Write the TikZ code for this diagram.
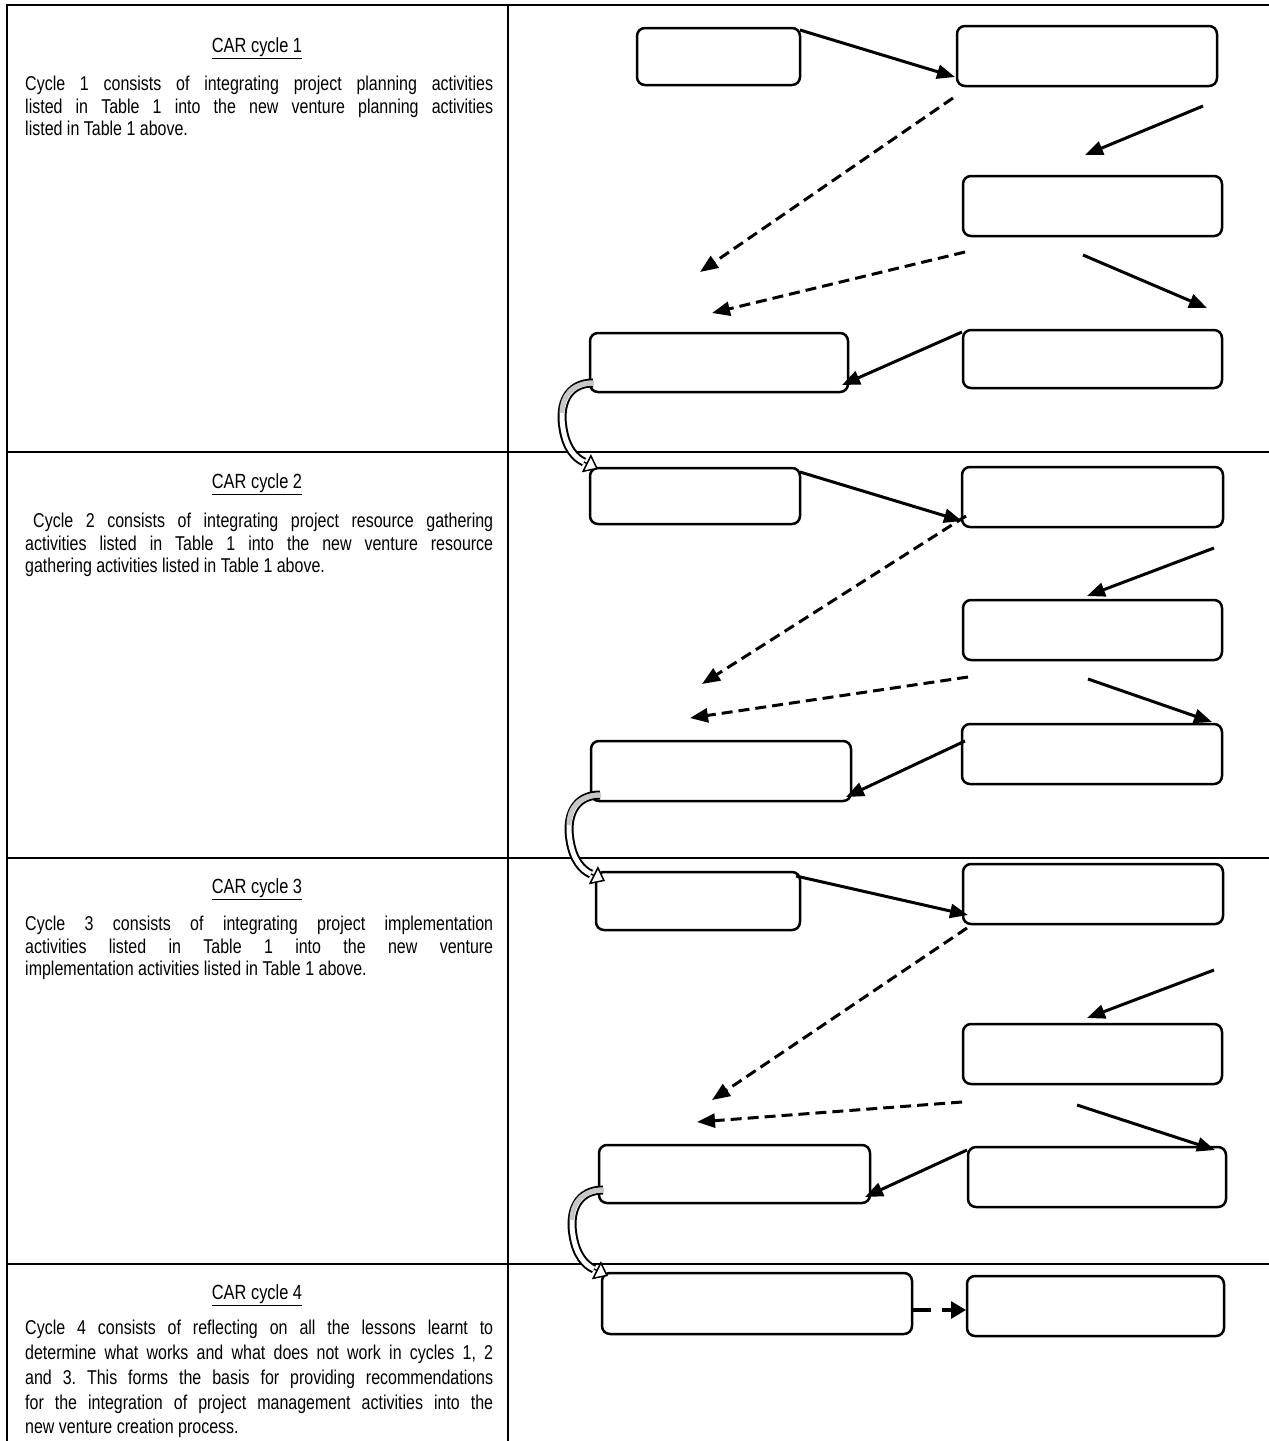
\documentclass[tikz,border=0pt]{standalone}
\usepackage{fontspec}
\setmainfont{Liberation Sans}[FakeStretch=0.80]
\usetikzlibrary{arrows.meta}
\frenchspacing
\begin{document}
\begin{tikzpicture}[x=1pt,y=-1pt,
  bx/.style={draw, line width=2.5pt, rounded corners=8pt, inner sep=0pt, fill=white},
  arr/.style={line width=3pt, -{Triangle[length=18pt,width=14pt]}},
  darr/.style={arr, dash pattern=on 11pt off 6pt},
  rule/.style={line width=2.4pt},
  ttl/.style={font=\fontsize{20.5}{24}\selectfont, inner sep=0pt},
  body/.style={font=\fontsize{20}{22.5}\selectfont, text width=468pt, align=justify, inner sep=0pt, anchor=north west},
  carcurve/.pic={
    \draw[line width=9pt] (0,0) .. controls (-26,0) and (-34,22) .. (-30,45) .. controls (-27,65) and (-18,75) .. (-9,79);
    \draw[line width=5pt, white] (0,0) .. controls (-26,0) and (-34,22) .. (-30,45) .. controls (-27,65) and (-18,75) .. (-9,79);
    \draw[line width=5pt, black!22] (1,0) .. controls (-22,0) and (-31,14) .. (-31,30);
    \draw[line width=1.5pt, -{Triangle[length=13pt,width=20pt,fill=white]}] (-9,79) -- (5,86);
  }]
\useasboundingbox (0,0) rectangle (1269,1441);
% table rules
\coordinate (tl) at (7,5);
\coordinate (tr) at (1269,5);
\coordinate (bl) at (7,1441);
\coordinate (mt) at (508,5);
\coordinate (mb) at (508,1441);
\draw[rule] (bl) -- (tl) -- (tr);
\draw[rule] (mt) -- (mb);
\coordinate (r1l) at (7,452);  \coordinate (r1r) at (1269,452);
\coordinate (r2l) at (7,858);  \coordinate (r2r) at (1269,858);
\coordinate (r3l) at (7,1264); \coordinate (r3r) at (1269,1264);
\draw[rule] (r1l) -- (r1r);
\draw[rule] (r2l) -- (r2r);
\draw[rule] (r3l) -- (r3r);

% texts
\node[ttl] (t1) at (257,48) {\underline{CAR cycle 1}};
\node[body] (p1) at (25,76) {Cycle 1 consists of integrating project planning activities\linebreak listed in Table 1 into the new venture planning activities\linebreak listed in Table 1 above.};
\node[ttl] (t2) at (257,484) {\underline{CAR cycle 2}};
\node[body] (p2) at (25,513) {\hspace*{8pt}Cycle 2 consists of integrating project resource gathering\linebreak activities listed in Table 1 into the new venture resource\linebreak gathering activities listed in Table 1 above.};
\node[ttl] (t3) at (257,889) {\underline{CAR cycle 3}};
\node[body] (p3) at (25,916) {Cycle 3 consists of integrating project implementation\linebreak activities listed in Table 1 into the new venture\linebreak implementation activities listed in Table 1 above.};
\node[ttl] (t4) at (257,1295) {\underline{CAR cycle 4}};
\node[body, font=\fontsize{20}{24.8}\selectfont] (p4) at (25,1320) {Cycle 4 consists of reflecting on all the lessons learnt to\linebreak determine what works and what does not work in cycles 1, 2\linebreak and 3. This forms the basis for providing recommendations\linebreak for the integration of project management activities into the\linebreak new venture creation process.};

% cycle 1 boxes
\node[bx, minimum width=163pt, minimum height=57pt] (a1) at (718.5,56.5) {};
\node[bx, minimum width=260pt, minimum height=60pt] (b1) at (1087,56) {};
\node[bx, minimum width=259pt, minimum height=60pt] (c1) at (1092.5,206) {};
\node[bx, minimum width=259pt, minimum height=58pt] (d1) at (1092.5,359) {};
\node[bx, minimum width=258pt, minimum height=59pt] (e1) at (719,362.5) {};
% cycle 2 boxes
\node[bx, minimum width=210pt, minimum height=56pt] (a2) at (695,496) {};
\node[bx, minimum width=261pt, minimum height=60pt] (b2) at (1092.5,497) {};
\node[bx, minimum width=259pt, minimum height=60pt] (c2) at (1092.5,630) {};
\node[bx, minimum width=260pt, minimum height=60pt] (d2) at (1092,754) {};
\node[bx, minimum width=260pt, minimum height=60pt] (e2) at (721,771) {};
% cycle 3 boxes
\node[bx, minimum width=204pt, minimum height=58pt] (a3) at (698,901) {};
\node[bx, minimum width=260pt, minimum height=60pt] (b3) at (1093,894) {};
\node[bx, minimum width=259pt, minimum height=60pt] (c3) at (1092.5,1054) {};
\node[bx, minimum width=258pt, minimum height=60pt] (d3) at (1097,1177) {};
\node[bx, minimum width=271pt, minimum height=58pt] (e3) at (734.5,1174) {};
% cycle 4 boxes
\node[bx, minimum width=310pt, minimum height=61pt] (a4) at (757,1303.5) {};
\node[bx, minimum width=257pt, minimum height=60pt] (b4) at (1095.5,1306) {};

% cycle 1 arrows
\coordinate (s11) at (800,30);   \coordinate (e11) at (955,77);
\coordinate (s12) at (953,98);   \coordinate (e12) at (700,272);
\coordinate (s13) at (1203,106); \coordinate (e13) at (1085,155);
\coordinate (s14) at (965,252);  \coordinate (e14) at (712,313);
\coordinate (s15) at (1083,255); \coordinate (e15) at (1207,308);
\coordinate (s16) at (962,332);  \coordinate (e16) at (842,385);
\draw[arr] (s11) -- (e11);
\draw[darr] (s12) -- (e12);
\draw[arr] (s13) -- (e13);
\draw[darr] (s14) -- (e14);
\draw[arr] (s15) -- (e15);
\draw[arr] (s16) -- (e16);
% cycle 2 arrows
\coordinate (s21) at (800,472);  \coordinate (e21) at (962,521);
\coordinate (s22) at (966,516);  \coordinate (e22) at (702,684);
\coordinate (s23) at (1214,548); \coordinate (e23) at (1087,596);
\coordinate (s24) at (968,677);  \coordinate (e24) at (690,718);
\coordinate (s25) at (1088,679); \coordinate (e25) at (1212,722);
\coordinate (s26) at (965,741);  \coordinate (e26) at (846,797);
\draw[arr] (s21) -- (e21);
\draw[darr] (s22) -- (e22);
\draw[arr] (s23) -- (e23);
\draw[darr] (s24) -- (e24);
\draw[arr] (s25) -- (e25);
\draw[arr] (s26) -- (e26);
% cycle 3 arrows
\coordinate (s31) at (796,876);   \coordinate (e31) at (968,915);
\coordinate (s32) at (967,928);   \coordinate (e32) at (712,1100);
\coordinate (s33) at (1214,970);  \coordinate (e33) at (1087,1018);
\coordinate (s34) at (962,1102);  \coordinate (e34) at (697,1122);
\coordinate (s35) at (1077,1105); \coordinate (e35) at (1215,1150);
\coordinate (s36) at (967,1150);  \coordinate (e36) at (865,1197);
\draw[arr] (s31) -- (e31);
\draw[darr] (s32) -- (e32);
\draw[arr] (s33) -- (e33);
\draw[darr] (s34) -- (e34);
\draw[arr] (s35) -- (e35);
\draw[arr] (s36) -- (e36);
% cycle 4 arrow
\coordinate (s41) at (913,1310); \coordinate (e41) at (966,1310);
\draw[line width=3.2pt, dash pattern=on 18pt off 11pt, -{Triangle[length=15pt,width=17pt]}] (s41) -- (e41);

% curved transfer arrows
\pic at (593,383) {carcurve};
\pic at (600,795) {carcurve};
\pic at (603,1190) {carcurve};
\end{tikzpicture}
\end{document}
